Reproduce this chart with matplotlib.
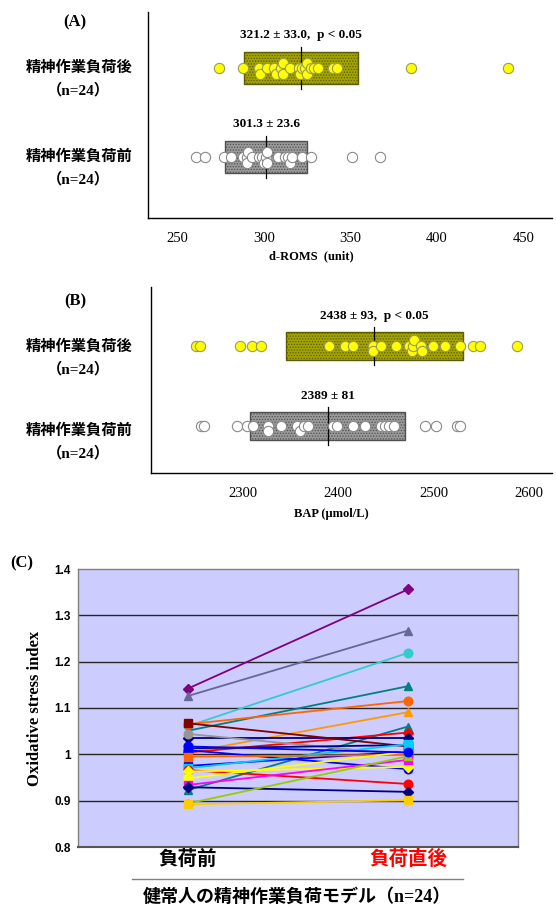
import numpy as np
import matplotlib.pyplot as plt
from matplotlib.patches import Rectangle
from matplotlib.lines import Line2D

plt.rcParams['font.family'] = ['Liberation Serif', 'Noto Sans CJK JP']
plt.rcParams['hatch.linewidth'] = 0.6

# (A) d-ROMs
droms_after = [274, 288, 297, 298, 302, 306, 307, 310, 311, 311, 315, 320,
               321, 322, 324, 325, 325, 327, 329, 331, 340, 342, 385, 441]
droms_before = [261, 266, 277, 281, 288, 290, 290, 291, 293, 297, 299, 300,
                301, 302, 302, 308, 312, 314, 315, 316, 322, 327, 351, 367]
droms_after_mean, droms_after_sd = 321.2, 33.0
droms_before_mean, droms_before_sd = 301.3, 23.6

# (B) BAP
bap_after = [2251, 2255, 2297, 2310, 2319, 2390, 2407, 2416, 2436, 2437, 2445, 2461,
             2474, 2477, 2478, 2479, 2487, 2488, 2499, 2512, 2528, 2541, 2549, 2587]
bap_before = [2256, 2260, 2294, 2305, 2311, 2327, 2327, 2340, 2357, 2360, 2364, 2368,
              2395, 2399, 2416, 2428, 2445, 2449, 2453, 2458, 2491, 2503, 2524, 2528]
bap_after_mean, bap_after_sd = 2438, 93
bap_before_mean, bap_before_sd = 2389, 81

# (C) oxidative stress index per subject
osi_before = [1.142, 1.126, 1.061, 1.051, 1.065, 1.004, 0.923, 1.004, 1.035, 1.067, 1.044, 1.013,
              1.009, 0.975, 0.970, 0.995, 0.966, 0.948, 0.963, 0.934, 0.929, 0.894, 0.892, 1.017]
osi_after = [1.356, 1.267, 1.219, 1.147, 1.115, 1.091, 1.060, 1.047, 1.035, 1.017, 0.999, 1.020,
             0.968, 1.006, 1.022, 0.999, 0.936, 1.006, 0.973, 0.988, 0.919, 0.996, 0.901, 1.004]
osi_colors = ['#800080', '#666699', '#33CCCC', '#008080', '#FF6600', '#FF9900', '#008080', '#FF0000',
              '#000080', '#800000', '#969696', '#000080', '#0000FF', '#0000FF', '#00CCFF', '#FF6600',
              '#FF0000', '#FFFF00', '#FFFF00', '#FF00FF', '#000080', '#99CC00', '#FFCC00', '#0000FF']
osi_markers = ['D', '^', 'o', '^', 'o', '^', '^', 'D', 'D', 's', 'o', 's',
               'o', 's', 's', 's', 'o', 'o', 'D', 's', 'D', '^', 's', 'o']
osi_groups = ['負荷前', '負荷直後']

W, H = 556, 907
fig = plt.figure(figsize=(W / 100, H / 100), dpi=100)


def px_axes(l, t, r, b):
    return fig.add_axes([l / W, 1 - b / H, (r - l) / W, (b - t) / H])


def swarm(values, ppu, d=3.0, step=5.5):
    # light beeswarm: only nearly coincident points get nudged up/down
    order = np.argsort(values)
    offs = np.zeros(len(values))
    placed = []
    for i in order:
        x = values[i] * ppu
        for c in [0, 1, -1, 2, -2]:
            y = c * step
            if all((x - px) ** 2 + (y - py) ** 2 >= d * d for px, py in placed):
                break
        placed.append((x, y))
        offs[i] = y
    return offs


def dot_panel(ax, rect, before, after, stats, xlim, ylim, xticks):
    l, t, r, b = rect
    ax.set_xlim(*xlim)
    ax.set_ylim(*ylim)
    ppx = (r - l) / (xlim[1] - xlim[0])
    ppy = (b - t) / (ylim[1] - ylim[0])
    rows = [(2, after, stats[0], '#a3a300', '#5c5c00', '#FFFF00', '#9a9a5a', ',  p < 0.05'),
            (1, before, stats[1], '#9a9a9a', '#505050', '#FFFFFF', '#8a8a8a', '')]
    for y, vals, (m, sd), fc, ec, dot, dotec, extra in rows:
        h = 0.35
        ax.add_patch(Rectangle((m - sd, y - h / 2), 2 * sd, h, facecolor=fc,
                               edgecolor=ec, hatch='......', lw=1.0, zorder=1))
        ax.plot([m, m], [y - 0.24, y + 0.24], color='black', lw=0.9, zorder=2)
        vals = np.array(vals, dtype=float)
        offs = swarm(vals, ppx) / ppy
        ax.plot(vals, y - offs, 'o', ms=7.4, mfc=dot, mec=dotec, mew=0.8,
                ls='none', zorder=3)
        txt = f'{m:g} ± {sd:.1f}' if isinstance(m, float) else f'{m} ± {sd}'
        ax.text(m, y + 0.37, txt + extra, ha='center', va='center',
                fontsize=9.5, fontweight='bold')
    for s in ['top', 'right']:
        ax.spines[s].set_visible(False)
    ax.spines['left'].set_linewidth(1.0)
    ax.spines['bottom'].set_linewidth(1.0)
    ax.set_yticks([])
    ax.set_xticks(xticks)
    ax.tick_params(axis='x', length=0, pad=10, labelsize=10.5)


def side_labels(label, y_top, y_after, y_before):
    fig.text(75 / W, 1 - y_top / H, label, ha='center', va='center',
             fontsize=12, fontweight='bold')
    for yy, word in [(y_after, '精神作業負荷後'), (y_before, '精神作業負荷前')]:
        fig.text(79 / W, 1 - yy / H, word, ha='center', va='center',
                 fontsize=11, fontweight='bold')
        fig.text(78 / W, 1 - (yy + 22) / H, '（n=24）', ha='center', va='center',
                 fontsize=11, fontweight='bold')


# (A)
rectA = (148, 12, 552, 218)
axA = px_axes(*rectA)
dot_panel(axA, rectA, droms_before, droms_after,
          [(droms_after_mean, droms_after_sd), (droms_before_mean, droms_before_sd)],
          (233, 466.5), (0.315, 2.63), [250, 300, 350, 400, 450])
fig.text(311 / W, 1 - 256 / H, 'd-ROMS  (unit)', ha='center', va='center',
         fontsize=9, fontweight='bold')
side_labels('(A)', 22, 68, 157)

# (B)
rectB = (151, 287, 552, 473)
axB = px_axes(*rectB)
dot_panel(axB, rectB, bap_before, bap_after,
          [(bap_after_mean, bap_after_sd), (bap_before_mean, bap_before_sd)],
          (2204, 2624), (0.413, 2.733), [2300, 2400, 2500, 2600])
fig.text(331 / W, 1 - 514 / H, 'BAP (μmol/L)', ha='center', va='center',
         fontsize=9, fontweight='bold')
side_labels('(B)', 301, 347, 431)

# (C)
axC = px_axes(78, 569, 518, 847)
axC.set_facecolor('#CCCCFF')
for yv in [0.9, 1.0, 1.1, 1.2, 1.3]:
    axC.axhline(yv, color='#262626', lw=1.0, zorder=1)
for b_, a_, c_, m_ in zip(osi_before, osi_after, osi_colors, osi_markers):
    ms = 5.0 if m_ == 'D' else 6.2
    axC.plot([0, 1], [b_, a_], color=c_, lw=1.3, marker=m_, ms=ms,
             mfc=c_, mec=c_, zorder=2)
axC.set_xlim(-0.5, 1.5)
axC.set_ylim(0.8, 1.4)
axC.set_yticks([0.8, 0.9, 1.0, 1.1, 1.2, 1.3, 1.4])
axC.set_yticklabels(['0.8', '0.9', '1', '1.1', '1.2', '1.3', '1.4'],
                    family='Liberation Sans', fontweight='bold', fontsize=8.5)
axC.set_xticks([0, 1])
axC.set_xticklabels(osi_groups, family=['Noto Sans CJK JP'],
                    fontweight='bold', fontsize=14)
axC.get_xticklabels()[1].set_color('#FF0000')
axC.tick_params(axis='both', length=0)
axC.tick_params(axis='y', pad=5)
axC.tick_params(axis='x', pad=2)
for s in axC.spines.values():
    s.set_color('#808080')
    s.set_linewidth(1.0)
axC.spines['bottom'].set_color('#555555')
axC.spines['bottom'].set_linewidth(1.5)
axC.set_ylabel('Oxidative stress index', fontsize=12, fontweight='bold', labelpad=8)
fig.text(22 / W, 1 - 563 / H, '(C)', ha='center', va='center',
         fontsize=12, fontweight='bold')
fig.add_artist(Line2D([132 / W, 463 / W], [1 - 879 / H, 1 - 879 / H],
                      color='#808080', lw=1.0))
fig.text(297 / W, 1 - 897 / H, '健常人の精神作業負荷モデル（n=24）', ha='center',
         va='center', fontsize=13, fontweight='bold')

fig.savefig('out.png', dpi=100)
